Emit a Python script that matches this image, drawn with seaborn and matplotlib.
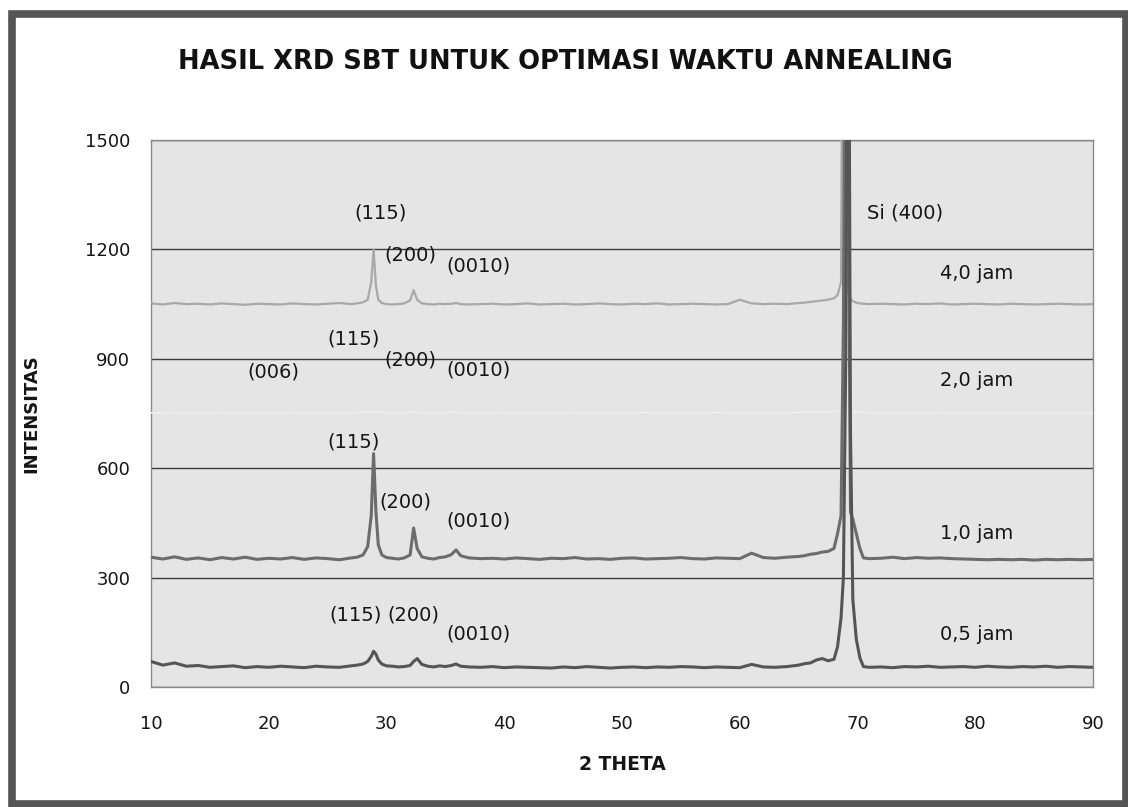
import matplotlib
matplotlib.use("Agg")
import matplotlib.pyplot as plt
from matplotlib.patches import Rectangle
import seaborn as sns
import pandas as pd

# ---------------- data ----------------
two_theta = [10, 11, 12, 13, 14, 15, 16, 17, 18, 19, 20, 21, 22, 23, 24, 25, 26, 27,
             27.5, 28, 28.4, 28.7, 28.9, 29.1, 29.3, 29.6, 30, 30.5, 31, 31.5, 32, 32.3, 32.6, 33,
             33.5, 34, 34.5, 35, 35.5, 35.9, 36.3, 37,
             38, 39, 40, 41, 42, 43, 44, 45, 46, 47, 48, 49, 50, 51, 52, 53, 54, 55, 56, 57, 58,
             59, 60, 61, 62, 63, 64, 65,
             65.5, 66, 66.5, 67, 67.5, 68, 68.3, 68.6, 68.8, 69.0, 69.2, 69.4, 69.6, 69.9, 70.2,
             70.5, 71,
             72, 73, 74, 75, 76, 77, 78, 79, 80, 81, 82, 83, 84, 85, 86, 87, 88, 89, 90]

int_05 = [70, 60, 66, 57, 59, 54, 56, 58, 53, 56, 54, 57, 55, 53, 57, 55, 54, 58,
          60, 63, 70, 84, 98, 90, 74, 63, 58, 57, 55, 56, 59, 70, 78, 62, 57, 55, 58, 56, 59, 63, 57, 55,
          54, 56, 53, 55, 54, 53, 52, 55, 53, 56, 54, 52, 54, 55, 53, 55, 54, 56, 55, 53, 55, 54, 53, 62,
          55, 54, 56, 60,
          64, 66, 74, 78, 72, 76, 110, 190, 300, 900, 2500, 700, 240, 130, 80, 56, 54,
          55, 53, 56, 55, 57, 54, 55, 56, 54, 57, 55, 54, 56, 55, 57, 54, 56, 55, 54]

int_10 = [356, 351, 357, 350, 354, 349, 355, 351, 356, 350, 353, 351, 355, 350, 354, 352, 349, 354,
          356, 362, 385, 470, 640, 480, 390, 362, 355, 353, 351, 354, 362, 436, 380, 357, 353, 351,
          355, 357, 363, 376, 360, 354,
          352, 353, 351, 354, 352, 350, 353, 352, 355, 351, 352, 350, 353, 354, 351, 352, 353, 355,
          352, 351, 354, 353, 352, 367, 355, 353, 356, 358,
          360, 364, 366, 370, 372, 380, 420, 470, 1000, 2500, 1500, 480, 460, 420, 380, 354, 352,
          353, 356, 352, 355, 353, 354, 352, 351, 350, 349, 350, 349, 350, 348, 350, 349, 350, 349, 350]

int_20 = [752, 751, 753, 750, 752, 751, 753, 750, 752, 751, 752, 750, 753, 751, 752, 750, 751, 752,
          753, 753, 754, 755, 756, 755, 754, 753, 752, 751, 752, 751, 753, 754, 753, 752, 751, 752,
          751, 752, 753, 754, 752, 751,
          752, 751, 753, 750, 752, 751, 752, 750, 753, 751, 752, 750, 751, 752, 753, 751, 752, 750,
          752, 751, 753, 752, 751, 752, 750, 751, 752, 753,
          753, 753, 754, 754, 755, 755, 756, 757, 758, 758, 757, 756, 755, 754, 753, 753, 752,
          751, 752, 750, 752, 751, 753, 750, 752, 751, 752, 750, 751, 752, 750, 751, 752, 750, 751, 752]

int_40 = [1052, 1049, 1053, 1050, 1051, 1049, 1052, 1050, 1048, 1051, 1050, 1049, 1052, 1050, 1049,
          1051, 1053, 1050,
          1052, 1055, 1062, 1110, 1200, 1100, 1062, 1053, 1050, 1049, 1050, 1052, 1060, 1088, 1062,
          1052, 1050, 1049, 1051, 1050, 1051, 1053, 1050, 1049,
          1050, 1051, 1049, 1050, 1052, 1049, 1050, 1051, 1049, 1050, 1052, 1050, 1049, 1051, 1050,
          1052, 1049, 1050, 1051, 1050, 1049, 1050, 1062, 1052, 1050, 1051, 1050, 1053,
          1054, 1056, 1058, 1060, 1062, 1066, 1075, 1110, 2500, 1300, 1080, 1065, 1058, 1054, 1052,
          1051, 1050,
          1051, 1050, 1049, 1051, 1050, 1052, 1049, 1050, 1051, 1050, 1049, 1051, 1050, 1049, 1050,
          1051, 1050, 1049, 1050]

series_names = ["2,0 jam", "4,0 jam", "1,0 jam", "0,5 jam"]
series_values = [int_20, int_40, int_10, int_05]

y_ticks = [0, 300, 600, 900, 1200, 1500]
x_ticks = [10, 20, 30, 40, 50, 60, 70, 80, 90]

peak_labels = ["(115)", "(200)", "(0010)", "Si (400)", "4,0 jam",
               "(115)", "(006)", "(200)", "(0010)", "2,0 jam",
               "(115)", "(200)", "(0010)", "1,0 jam",
               "(115)", "(200)", "(0010)", "0,5 jam"]
peak_label_x = [29.5, 32.0, 37.8, 74.0, 80.1,
                27.2, 20.4, 32.0, 37.8, 80.1,
                27.2, 31.6, 37.8, 80.1,
                27.4, 32.3, 37.8, 80.1]
peak_label_y = [1300, 1185, 1155, 1300, 1135,
                955, 865, 897, 870, 840,
                672, 507, 455, 422,
                197, 197, 145, 145]

# ---------------- build frame ----------------
rows = []
for name, vals in zip(series_names, series_values):
    for x, y in zip(two_theta, vals):
        rows.append({"2 THETA": x, "INTENSITAS": y, "series": name})
df = pd.DataFrame(rows)

# ---------------- plot ----------------
sns.set_style("white")
plt.rcParams["font.family"] = ["DejaVu Sans"]

fig = plt.figure(figsize=(11.28, 8.07), dpi=100)
ax = fig.add_axes([0.1339, 0.1487, 0.8351, 0.6778])
ax.set_facecolor("#e5e5e5")

palette = {"0,5 jam": "#555555", "1,0 jam": "#6c6c6c", "2,0 jam": "#eeeeee", "4,0 jam": "#a8a8a8"}
sizes = {"0,5 jam": 2.2, "1,0 jam": 2.2, "2,0 jam": 1.3, "4,0 jam": 1.6}
sns.lineplot(data=df, x="2 THETA", y="INTENSITAS", hue="series", size="series",
             palette=palette, sizes=sizes, estimator=None, sort=False,
             legend=False, ax=ax, zorder=3)

ax.set_xlim(10, 90)
ax.set_ylim(0, 1500)
ax.set_xticks(x_ticks)
ax.set_yticks(y_ticks)
ax.yaxis.grid(True, color="#3c3c3c", linewidth=1.0, zorder=1)
ax.xaxis.grid(False)
ax.set_axisbelow(True)
for s in ax.spines.values():
    s.set_color("#8a8a8a")
    s.set_linewidth(1.0)
ax.tick_params(axis="both", direction="out", length=6, width=1, color="#777777",
               labelsize=13, labelcolor="#151515")
ax.tick_params(axis="y", pad=9)
ax.tick_params(axis="x", pad=14)
ax.set_xlabel("2 THETA", fontsize=13.5, fontweight="bold", labelpad=16, color="#151515")
ax.set_ylabel("INTENSITAS", fontsize=13, fontweight="bold", labelpad=32, color="#151515")

for t, x, y in zip(peak_labels, peak_label_x, peak_label_y):
    ax.text(x, y, t, ha="center", va="center", fontsize=14, color="#151515", zorder=4)

fig.text(0.501, 0.923, "HASIL XRD SBT UNTUK OPTIMASI WAKTU ANNEALING",
         ha="center", va="center", fontsize=18.5, fontweight="bold", color="#111111")

# outer frame
fig.patches.append(Rectangle((0.0105, 0.0035), 0.9875, 0.9795, transform=fig.transFigure,
                             fill=False, edgecolor="#555555", linewidth=5.5, zorder=0))

fig.savefig("out.png", dpi=100, facecolor="white")
